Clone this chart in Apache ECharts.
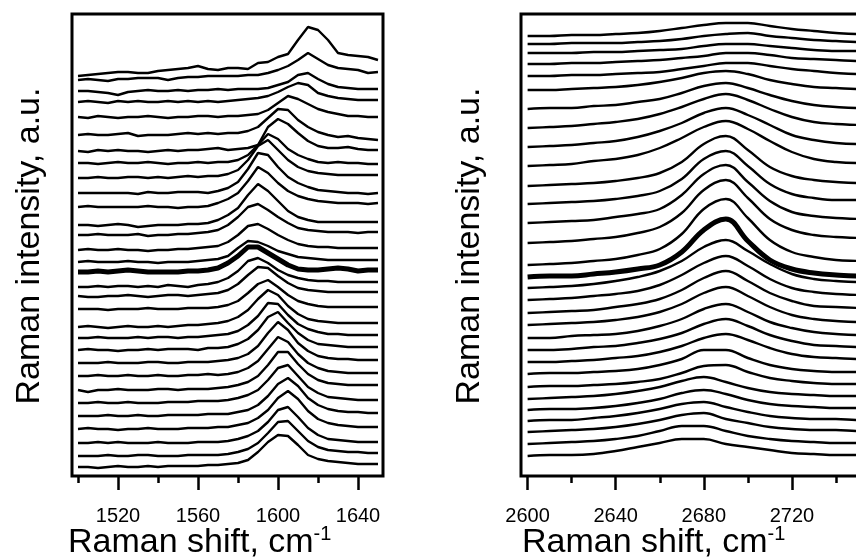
<!DOCTYPE html>
<html>
<head>
<meta charset="utf-8">
<script src="https://cdn.jsdelivr.net/npm/echarts@6/dist/echarts.min.js"></script>
<style>
  html, body { margin: 0; background: #fff; overflow: hidden; }
  #main { width: 856px; height: 560px; }
</style>
</head>
<body>
<div id="main"></div>
<script>
// G band, sampled every 5 cm-1
const gShift = [1500, 1505, 1510, 1515, 1520, 1525, 1530, 1535, 1540, 1545, 1550, 1555, 1560, 1565, 1570, 1575,
  1580, 1585, 1590, 1595, 1600, 1605, 1610, 1615, 1620, 1625, 1630, 1635, 1640, 1645, 1650];
// vertical shift of each spectrum (top to bottom)
const gOffset = [400, 396, 385, 374, 359, 341, 325, 313, 298, 283, 269, 251, 241, 226, 214, 204,
  189, 180, 167, 149, 138, 126, 113, 100, 86, 73, 60, 47, 33, 20, 9];
const gSpectra = [
  [0, 1, 2, 3, 4, 4, 3, 3, 5, 6, 7, 8, 10, 7, 6, 8, 8, 7, 13, 14, 19, 22, 36, 49, 46, 36, 23, 21, 20, 19, 16],
  [0, 1, 0, -1, 1, 1, 2, 2, 2, 0, 2, 3, 3, 4, 4, 4, 4, 5, 5, 7, 10, 14, 20, 27, 21, 15, 12, 11, 10, 7, 8],
  [0, 0, -1, -2, -4, -1, 0, 1, 0, 0, 1, 0, 1, 1, 2, 1, 2, 2, 2, 3, 6, 9, 16, 18, 12, 7, 4, 3, 2, 2, 2],
  [0, 1, 0, -1, 1, 0, 1, 0, 0, 1, 0, 1, 0, 1, 0, 1, 2, 3, 4, 6, 10, 15, 19, 17, 9, 6, 4, 3, 2, 2, 2],
  [0, -1, 1, 0, -1, 0, 0, 1, 0, -1, 0, 0, 1, 1, 0, 1, 1, 2, 3, 7, 14, 21, 18, 13, 8, 5, 3, 1, 1, 0, 0],
  [0, 1, 0, 0, 1, 2, -1, 0, 0, 0, 1, 2, 1, 2, 1, 2, 2, 4, 8, 17, 26, 25, 15, 8, 3, 0, -2, -1, -3, -4, -5],
  [0, -1, 1, 0, 1, 0, 0, -1, 0, 1, 0, 1, 1, 2, 3, 1, 2, 3, 6, 24, 32, 27, 18, 10, 5, 3, 3, 4, 2, 1, 1],
  [0, 0, -1, 0, 1, 0, 0, 1, 0, -1, 0, 0, 1, 0, 1, 1, 3, 8, 18, 29, 24, 14, 8, 4, 1, 0, 1, 0, 0, -1, -1],
  [0, 0, 1, 0, 0, 1, 1, 0, 1, 0, 1, 2, 1, 2, 2, 4, 8, 18, 32, 38, 28, 18, 11, 7, 5, 4, 3, 3, 3, 3, 3],
  [0, 0, 0, 0, 0, 0, -1, 1, 0, 0, 1, 1, 1, 0, 2, 5, 11, 24, 40, 38, 26, 16, 10, 6, 3, 2, 1, 0, 0, -1, 0],
  [0, 1, 0, 0, 0, 0, 0, 1, 0, 0, -1, 0, 0, 1, 4, 8, 14, 26, 40, 34, 24, 16, 11, 8, 6, 5, 4, 4, 4, 3, 4],
  [0, 0, -1, 0, 1, 0, -2, -1, 0, 0, 0, 1, 1, 2, 5, 10, 17, 30, 41, 34, 24, 14, 8, 5, 3, 3, 3, 3, 3, 3, 3],
  [0, 0, 1, 0, 0, 0, 1, -1, 0, 0, 1, 1, 2, 3, 5, 10, 18, 28, 31, 25, 18, 12, 7, 5, 4, 3, 3, 3, 2, 3, 3],
  [0, 1, 0, 0, 1, 0, 0, -1, 0, 0, 1, 1, 2, 3, 4, 8, 15, 24, 26, 21, 15, 10, 6, 4, 3, 3, 2, 2, 2, 2, 2],
  [0, 1, 0, 0, 0, 1, 0, 0, -1, 0, 0, 0, 1, 2, 3, 6, 14, 21, 20, 16, 11, 8, 5, 4, 3, 2, 2, 2, 2, 2, 2],
  [0, 0, 1, 0, 1, 2, 1, 0, 0, 0, 0, 1, 1, 2, 4, 9, 16, 25, 25, 19, 13, 7, 3, 2, 2, 3, 4, 3, 1, 2, 2],
  [0, 0, 1, 0, 1, 1, 0, 1, 0, 2, 1, 0, 2, 3, 5, 9, 16, 26, 29, 24, 17, 12, 9, 7, 6, 6, 5, 5, 5, 5, 5],
  [0, -1, -1, 0, 0, 1, 0, -1, 0, 1, 1, 0, 1, 2, 3, 6, 12, 21, 29, 28, 20, 13, 8, 6, 5, 4, 4, 4, 4, 4, 4],
  [0, 0, 0, -1, 0, 0, 0, 1, 0, 0, 0, 1, 1, 1, 2, 4, 8, 16, 25, 29, 22, 14, 8, 5, 3, 2, 2, 2, 2, 2, 2],
  [0, 1, 0, -1, 0, 1, 0, 0, 1, 0, 1, 2, 2, 3, 4, 6, 10, 17, 28, 37, 32, 21, 13, 8, 6, 5, 4, 4, 4, 4, 4],
  [0, 0, 1, 0, 0, 0, 1, 0, 1, 1, 0, 1, 1, 2, 3, 4, 7, 13, 22, 35, 34, 23, 14, 9, 6, 4, 4, 3, 3, 3, 3],
  [0, 1, 0, 0, -1, 0, 0, 1, 0, 1, 1, 1, 0, 2, 2, 3, 6, 11, 20, 33, 38, 27, 17, 10, 6, 5, 4, 3, 3, 3, 3],
  [0, 0, 0, 1, 0, 0, 0, 1, 1, 0, 0, 1, 1, 1, 2, 3, 5, 9, 17, 30, 41, 33, 20, 12, 7, 5, 4, 4, 3, 3, 3],
  [0, 0, 1, 0, 0, 1, 0, 0, 1, 0, 0, 1, 1, 2, 1, 2, 4, 8, 15, 27, 39, 34, 22, 13, 8, 5, 4, 3, 3, 3, 3],
  [0, -2, 0, 0, 1, 0, 0, 0, 1, 1, 0, 1, 1, 1, 2, 3, 5, 8, 14, 25, 38, 38, 26, 16, 10, 7, 6, 5, 5, 5, 5],
  [0, 0, 1, 0, 0, 1, 0, 0, 0, 1, 1, 1, 2, 2, 2, 3, 5, 8, 13, 23, 35, 38, 27, 16, 10, 6, 5, 4, 3, 3, 3],
  [0, 0, 0, 1, 0, 0, 1, 0, 0, 1, 1, 1, 1, 2, 2, 2, 4, 6, 11, 20, 32, 38, 30, 18, 11, 7, 5, 4, 4, 3, 3],
  [0, 1, 0, 0, -1, 0, 0, 1, 0, 0, 0, 1, 1, 1, 2, 2, 4, 6, 11, 19, 31, 38, 30, 18, 10, 6, 4, 3, 2, 2, 2],
  [0, 0, 1, 0, 1, 0, 0, 0, 1, 0, 0, 0, 1, 1, 1, 2, 4, 7, 12, 21, 33, 36, 26, 15, 8, 4, 3, 2, 1, 1, 1],
  [0, 0, 0, 1, 0, 0, 1, 1, 0, 0, 0, 1, 1, 1, 1, 2, 4, 7, 13, 23, 34, 35, 25, 15, 9, 6, 5, 4, 4, 3, 3],
  [0, 0, -1, 0, 1, 0, 0, 1, 0, 1, 1, 1, 1, 2, 2, 3, 4, 7, 15, 25, 32, 31, 22, 12, 8, 6, 5, 4, 3, 3, 3]
];

// 2D band, sampled every 10 cm-1
const dShift = [2600, 2610, 2620, 2630, 2640, 2650, 2660, 2670, 2680, 2690, 2700, 2710, 2720, 2730, 2740, 2750, 2760];
const dOffset = [440, 432, 423, 412, 400, 386, 367, 348, 329, 310, 290, 272, 253, 233, 211, 199,
  188, 176, 163, 151, 138, 126, 114, 102, 89, 77, 66, 55, 44, 32, 20];
const dSpectra = [
  [0, 0, 1, 1, 2, 3, 5, 8, 11, 13, 13, 10, 7, 5, 3, 2, 2],
  [0, 0, 1, 1, 1, 2, 3, 5, 8, 10, 11, 8, 6, 4, 3, 2, 2],
  [0, 0, 0, 1, 1, 2, 3, 4, 7, 9, 9, 7, 5, 3, 2, 2, 2],
  [0, 0, 1, 1, 2, 3, 4, 6, 8, 11, 11, 9, 6, 5, 4, 3, 3],
  [0, 0, 1, 1, 2, 3, 4, 7, 10, 13, 13, 10, 7, 5, 3, 2, 2],
  [0, 0, 1, 2, 3, 5, 8, 12, 17, 19, 16, 10, 6, 3, 2, 1, 1],
  [0, 1, 1, 3, 4, 7, 10, 16, 23, 26, 21, 14, 8, 4, 2, 1, 1],
  [0, 1, 2, 4, 6, 9, 14, 21, 29, 34, 28, 19, 11, 6, 4, 3, 2],
  [0, 1, 2, 4, 6, 10, 16, 24, 34, 39, 32, 22, 12, 7, 4, 3, 3],
  [0, 1, 2, 5, 7, 11, 18, 28, 39, 45, 37, 25, 14, 7, 4, 3, 3],
  [0, 1, 2, 3, 5, 8, 13, 24, 42, 50, 36, 19, 10, 6, 4, 3, 3],
  [0, 1, 2, 3, 5, 8, 13, 25, 45, 53, 38, 20, 10, 6, 4, 4, 3],
  [0, 1, 2, 3, 6, 9, 14, 28, 49, 58, 41, 22, 11, 7, 5, 4, 3],
  [0, 1, 2, 4, 6, 10, 16, 30, 53, 63, 45, 24, 13, 8, 6, 5, 4],
  [0, 1, 2, 4, 6, 10, 16, 31, 56, 66, 47, 25, 13, 8, 5, 4, 3],
  [0, 1, 1, 3, 5, 8, 12, 25, 47, 58, 36, 17, 8, 4, 2, 1, 1],
  [0, 1, 2, 4, 7, 11, 17, 27, 41, 48, 37, 24, 14, 9, 7, 6, 6],
  [0, 1, 2, 4, 6, 9, 15, 25, 37, 44, 34, 21, 12, 8, 6, 5, 4],
  [0, 1, 2, 3, 6, 9, 14, 23, 35, 42, 32, 20, 12, 7, 6, 5, 4],
  [0, 1, 2, 3, 5, 8, 13, 21, 32, 38, 29, 18, 10, 6, 4, 3, 3],
  [0, 0, 2, 3, 4, 7, 12, 19, 29, 34, 26, 16, 10, 6, 4, 3, 3],
  [0, 0, 1, 3, 4, 7, 11, 17, 26, 31, 24, 15, 9, 5, 4, 3, 3],
  [0, 0, 1, 2, 4, 6, 10, 16, 24, 28, 22, 14, 8, 5, 4, 3, 3],
  [0, 1, 1, 2, 3, 5, 9, 15, 24, 24, 16, 9, 5, 3, 2, 2, 2],
  [0, 1, 1, 2, 3, 5, 8, 14, 21, 22, 15, 9, 6, 4, 3, 3, 3],
  [0, 1, 2, 3, 5, 8, 12, 18, 22, 17, 11, 7, 5, 4, 3, 3, 3],
  [0, 1, 1, 2, 4, 7, 11, 17, 20, 16, 10, 6, 4, 3, 2, 2, 1],
  [0, 1, 1, 3, 5, 8, 12, 17, 19, 14, 9, 5, 3, 2, 2, 1, 1],
  [0, 1, 2, 3, 5, 8, 12, 17, 19, 13, 9, 5, 3, 2, 2, 1, 1],
  [0, 1, 2, 3, 5, 8, 13, 18, 18, 13, 8, 5, 3, 2, 1, 1, 1],
  [0, 1, 1, 2, 5, 9, 13, 17, 17, 12, 9, 6, 3, 2, 1, 1, 1]
];
const boldIndex = 15; // the highlighted spectrum

const gMajor = [1520, 1560, 1600, 1640];
const gMinor = [1500, 1540, 1580, 1620];
const dMajor = [2600, 2640, 2680, 2720, 2760];
const dMinor = [2620, 2660, 2700, 2740];

const FONT = "'Liberation Sans', Arial, sans-serif";

var chart = echarts.init(document.getElementById("main"), null, { renderer: "canvas" });

function tickAxis(grid, min, max, ticks, len, labels) {
  return {
    type: "value",
    gridIndex: grid,
    position: "bottom",
    min: min,
    max: max,
    axisLine: { show: false },
    splitLine: { show: false },
    axisTick: { show: true, customValues: ticks, length: len, lineStyle: { color: "#000", width: 2.5 } },
    axisLabel: labels
      ? {
          show: true, customValues: ticks, margin: 30, fontSize: 20, color: "#000", fontFamily: FONT,
          formatter: function (v) { return String(v); }
        }
      : { show: false }
  };
}

function makeSeries(xs, offs, spectra, xAxis, yAxis) {
  return spectra.map(function (vals, k) {
    return {
      type: "line",
      xAxisIndex: xAxis,
      yAxisIndex: yAxis,
      data: xs.map(function (x, i) { return [x, offs[k] + vals[i]]; }),
      showSymbol: false,
      smooth: xAxis === 2 ? 0.4 : false,
      silent: true,
      lineStyle: { color: "#000", width: k === boldIndex ? 5 : 2.4 },
      z: k === boldIndex ? 3 : 2
    };
  });
}

function title(x, text) {
  return {
    type: "text",
    left: x,
    top: 524,
    style: {
      text: "{a|" + text + "}{b|-1}",
      rich: {
        a: { fontSize: 34, fontFamily: FONT, fill: "#000", lineHeight: 38 },
        b: { fontSize: 20, fontFamily: FONT, fill: "#000", verticalAlign: "top", lineHeight: 38 }
      }
    }
  };
}

function yTitle(cx) {
  return {
    type: "text",
    x: cx,
    y: 246,
    rotation: Math.PI / 2,
    style: {
      text: "Raman intensity, a.u.",
      fontSize: 34,
      fontFamily: FONT,
      fill: "#000",
      align: "center",
      verticalAlign: "middle"
    }
  };
}

var option = {
  animation: false,
  backgroundColor: "#fff",
  grid: [
    { left: 72, top: 14, width: 311, height: 462, outerBoundsMode: "none", show: true, borderColor: "#000", borderWidth: 3 },
    { left: 521, top: 14, width: 370, height: 462, outerBoundsMode: "none", show: true, borderColor: "#000", borderWidth: 3 }
  ],
  xAxis: [
    tickAxis(0, 1497, 1652.5, gMajor, 14, true),
    tickAxis(0, 1497, 1652.5, gMinor, 7, false),
    tickAxis(1, 2597, 2765, dMajor, 14, true),
    tickAxis(1, 2597, 2765, dMinor, 7, false)
  ],
  yAxis: [
    { type: "value", gridIndex: 0, min: 0, max: 462, show: false },
    { type: "value", gridIndex: 1, min: 0, max: 462, show: false }
  ],
  graphic: [title(68, "Raman shift, cm"), title(522, "Raman shift, cm"), yTitle(30), yTitle(470)],
  series: makeSeries(gShift, gOffset, gSpectra, 0, 0).concat(makeSeries(dShift, dOffset, dSpectra, 2, 1))
};

option && chart.setOption(option);
</script>
</body>
</html>
